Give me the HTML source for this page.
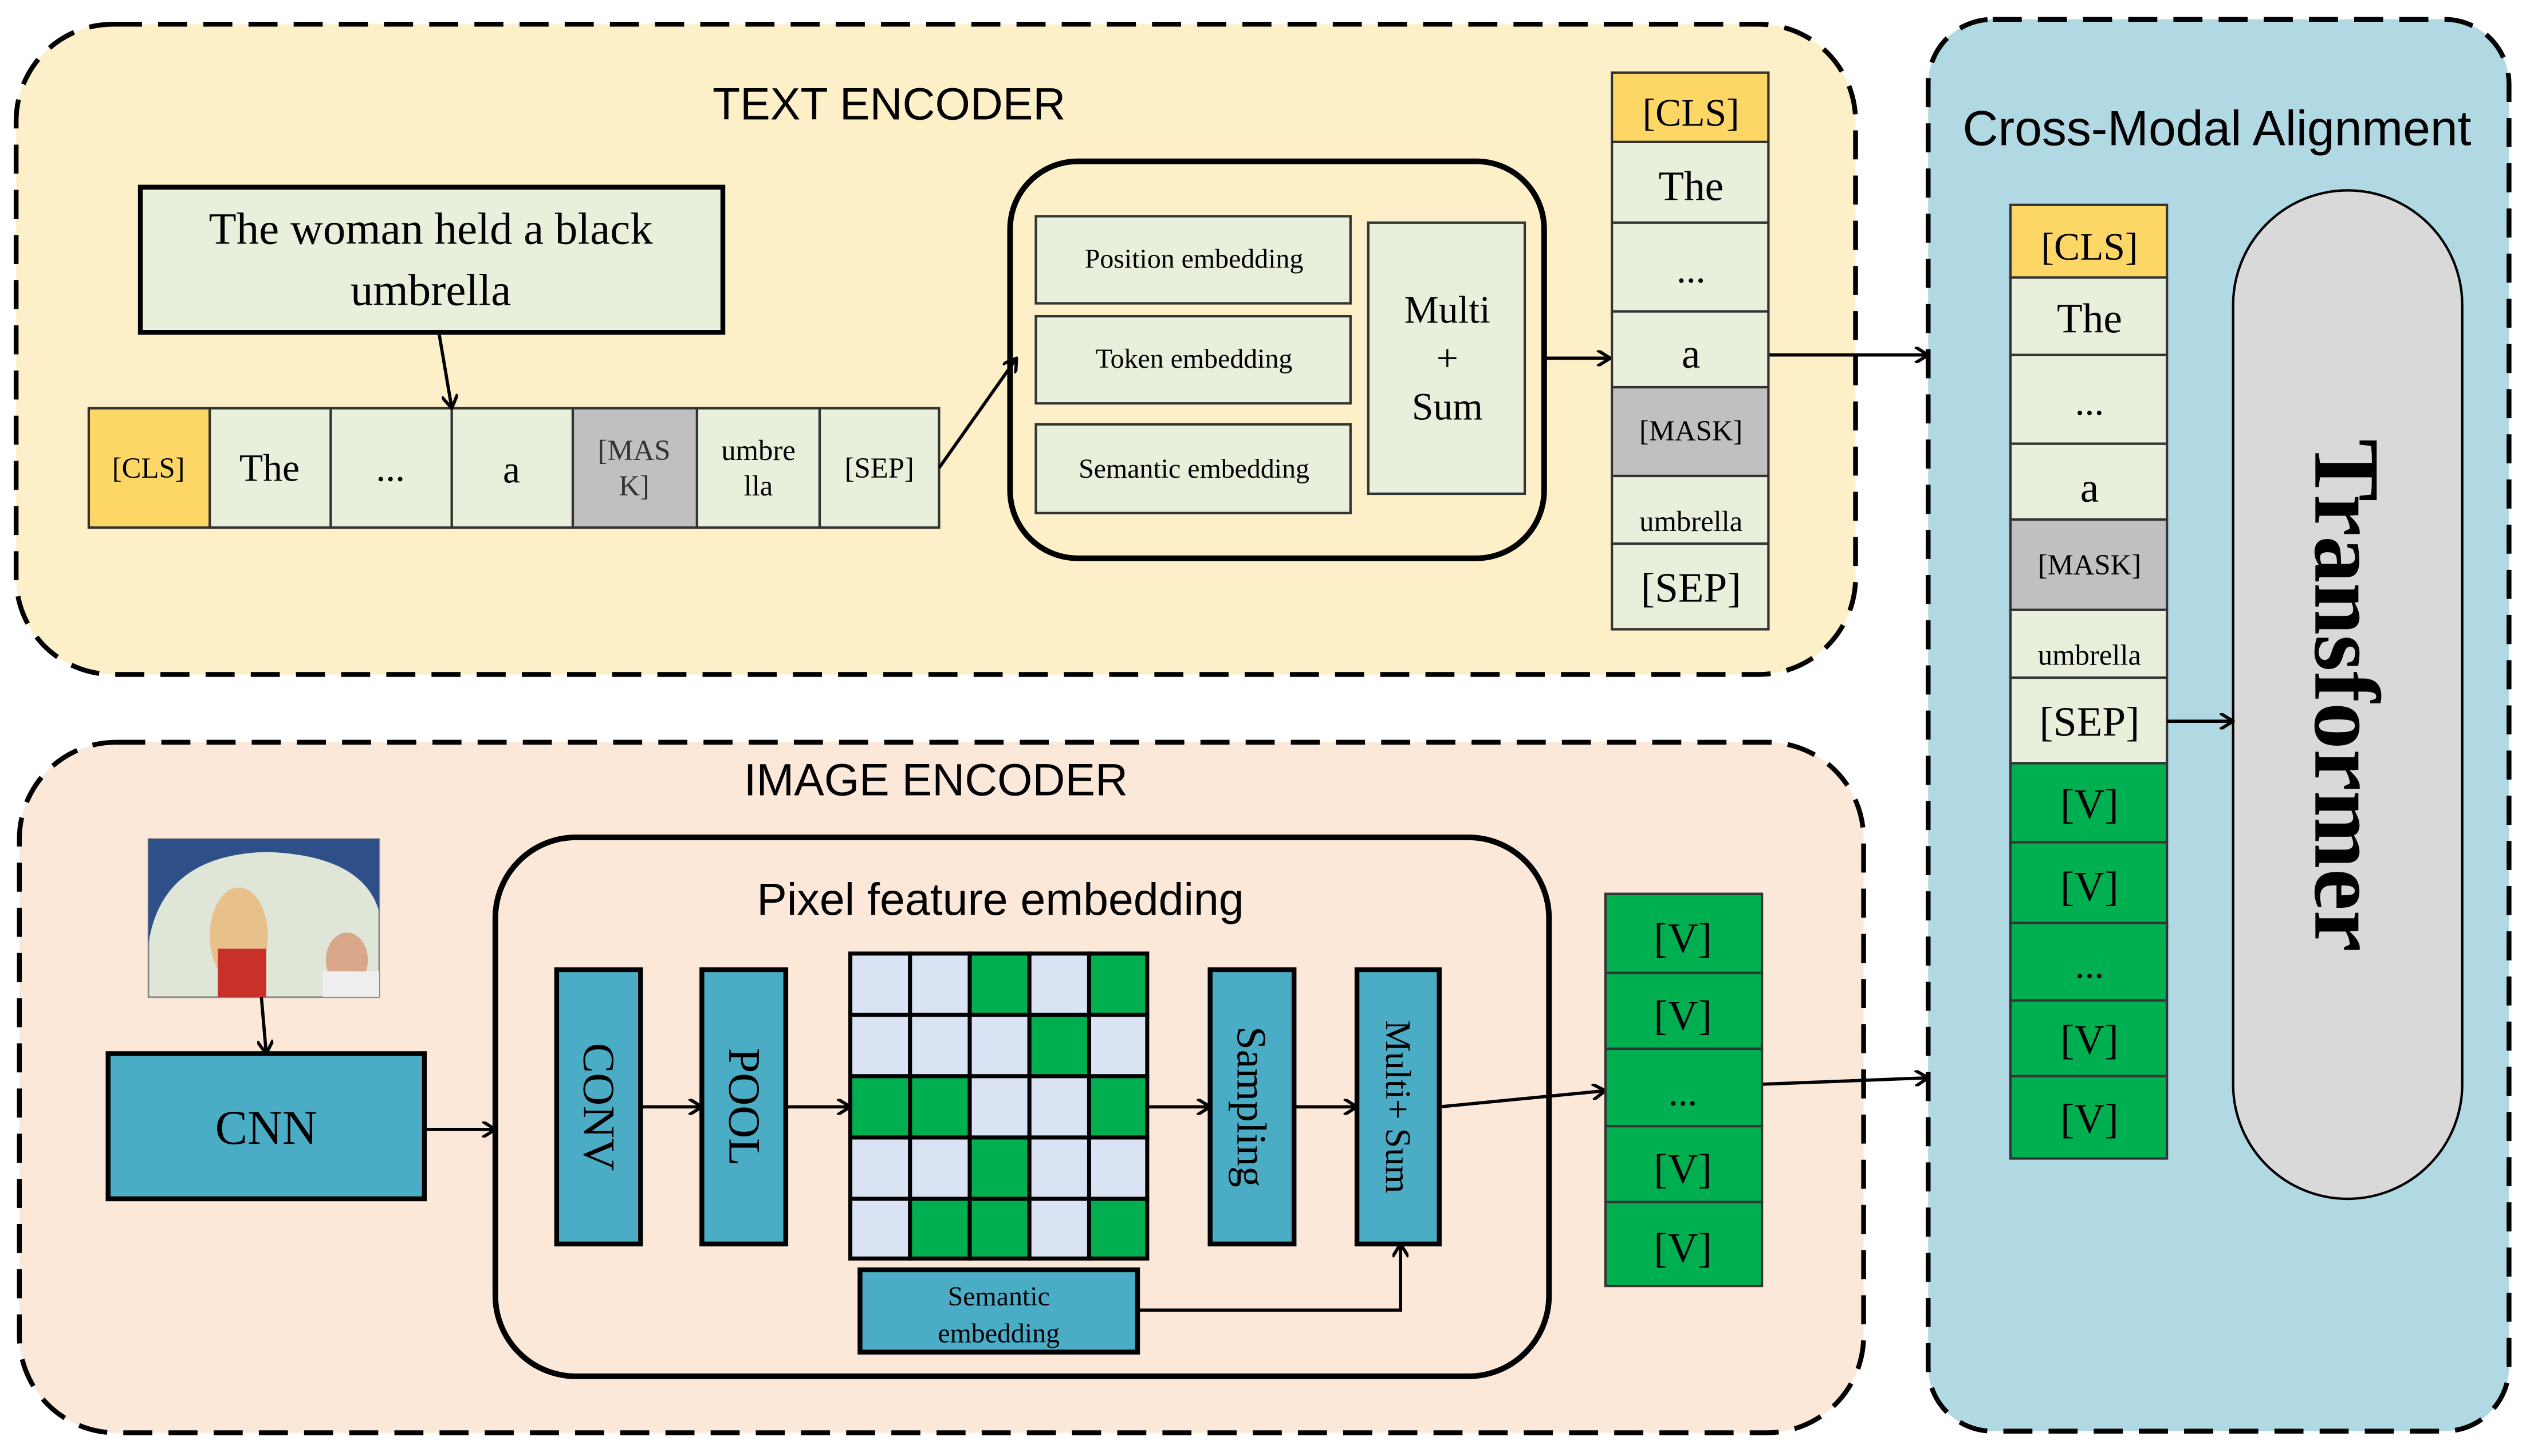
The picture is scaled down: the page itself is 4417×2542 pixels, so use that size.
<!DOCTYPE html>
<html><head><meta charset="utf-8"><style>html,body{margin:0;padding:0;background:#fff}svg{display:block}</style></head><body>
<svg width="4417" height="2542" viewBox="0 0 1568 902.4" preserveAspectRatio="none" xmlns="http://www.w3.org/2000/svg">
<defs><marker id="a" markerWidth="10" markerHeight="10" refX="9" refY="5" orient="auto" markerUnits="userSpaceOnUse"><path d="M1,0 L9,5 L1,10" fill="none" stroke="#000" stroke-width="2"/></marker></defs>
<g font-family="Liberation Serif, serif" text-anchor="middle">
<rect x="10" y="15" width="1140" height="403" rx="60" fill="#fdf0c8" stroke="#000" stroke-width="3" stroke-dasharray="18,10"/>
<rect x="12" y="460" width="1143" height="428" rx="60" fill="#fbe8d9" stroke="#000" stroke-width="3" stroke-dasharray="18,10"/>
<rect x="1195" y="12" width="360" height="875" rx="40" fill="#b0d9e4" stroke="#000" stroke-width="3" stroke-dasharray="18,10"/>
<text x="551" y="74" font-family="Liberation Sans, sans-serif" font-size="28">TEXT ENCODER</text>
<text x="580" y="493" font-family="Liberation Sans, sans-serif" font-size="28">IMAGE ENCODER</text>
<text x="1374" y="90" font-family="Liberation Sans, sans-serif" font-size="30.5">Cross-Modal Alignment</text>
<rect x="87" y="116" width="361" height="90" fill="#e8f0dc" stroke="#000" stroke-width="3"/>
<text x="267" y="151" font-size="28">The woman held a black</text>
<text x="267" y="189" font-size="28">umbrella</text>
<g stroke="#333" stroke-width="1.5">
<rect x="55" y="253" width="75" height="74" fill="#fdd766"/>
<rect x="130" y="253" width="75" height="74" fill="#e8f0dc"/>
<rect x="205" y="253" width="75" height="74" fill="#e8f0dc"/>
<rect x="280" y="253" width="75" height="74" fill="#e8f0dc"/>
<rect x="355" y="253" width="77" height="74" fill="#c0c0c0"/>
<rect x="432" y="253" width="76" height="74" fill="#e8f0dc"/>
<rect x="508" y="253" width="74" height="74" fill="#e8f0dc"/>
</g>
<text x="92" y="296" font-size="18">[CLS]</text>
<text x="167" y="298" font-size="24">The</text>
<text x="242" y="298" font-size="24">...</text>
<text x="317" y="299" font-size="24">a</text>
<text x="393" y="285" font-size="18" fill="#333">[MAS</text>
<text x="393" y="307" font-size="18" fill="#333">K]</text>
<text x="470" y="285" font-size="18">umbre</text>
<text x="470" y="307" font-size="18">lla</text>
<text x="545" y="296" font-size="18">[SEP]</text>
<g stroke="#000" stroke-width="2" fill="none">
<line x1="272" y1="206" x2="280" y2="253" marker-end="url(#a)"/>
<line x1="582" y1="290" x2="630" y2="222" marker-end="url(#a)"/>
<line x1="957" y1="222" x2="998" y2="222" marker-end="url(#a)"/>
<line x1="1096" y1="220" x2="1195" y2="220" marker-end="url(#a)"/>
</g>
<rect x="626" y="100" width="331" height="246" rx="42" fill="none" stroke="#000" stroke-width="3.5"/>
<g fill="#e8f0dc" stroke="#333" stroke-width="1.5">
<rect x="642" y="134" width="195" height="54"/><rect x="642" y="196" width="195" height="54"/>
<rect x="642" y="263" width="195" height="55"/><rect x="848" y="138" width="97" height="168"/>
</g>
<text x="740" y="166" font-size="17">Position embedding</text>
<text x="740" y="228" font-size="17">Token embedding</text>
<text x="740" y="296" font-size="17">Semantic embedding</text>
<text x="897" y="200" font-size="24">Multi</text>
<text x="897" y="230" font-size="24">+</text>
<text x="897" y="260" font-size="24">Sum</text>
<g stroke="#333" stroke-width="1.5">
<rect x="999" y="45" width="97" height="43" fill="#fdd766"/>
<rect x="999" y="88" width="97" height="50" fill="#e8f0dc"/>
<rect x="999" y="138" width="97" height="55" fill="#e8f0dc"/>
<rect x="999" y="193" width="97" height="47" fill="#e8f0dc"/>
<rect x="999" y="240" width="97" height="55" fill="#c0c0c0"/>
<rect x="999" y="295" width="97" height="42" fill="#e8f0dc"/>
<rect x="999" y="337" width="97" height="53" fill="#e8f0dc"/>
</g>
<text x="1048" y="78" font-size="24">[CLS]</text>
<text x="1048" y="124" font-size="26">The</text>
<text x="1048" y="175" font-size="24">...</text>
<text x="1048" y="228" font-size="26">a</text>
<text x="1048" y="273" font-size="18">[MASK]</text>
<text x="1048" y="329" font-size="18">umbrella</text>
<text x="1048" y="373" font-size="26">[SEP]</text>
<g stroke="#333" stroke-width="1.5">
<rect x="1246" y="127" width="97" height="45" fill="#fdd766"/>
<rect x="1246" y="172" width="97" height="48" fill="#e8f0dc"/>
<rect x="1246" y="220" width="97" height="55" fill="#e8f0dc"/>
<rect x="1246" y="275" width="97" height="47" fill="#e8f0dc"/>
<rect x="1246" y="322" width="97" height="56" fill="#c0c0c0"/>
<rect x="1246" y="378" width="97" height="42" fill="#e8f0dc"/>
<rect x="1246" y="420" width="97" height="53" fill="#e8f0dc"/>
<rect x="1246" y="473" width="97" height="49" fill="#00b050"/>
<rect x="1246" y="522" width="97" height="53" fill="#00b050"/>
<rect x="1246" y="572" width="97" height="48" fill="#00b050"/>
<rect x="1246" y="620" width="97" height="47" fill="#00b050"/>
<rect x="1246" y="667" width="97" height="51" fill="#00b050"/>
</g>
<text x="1295" y="161" font-size="24">[CLS]</text>
<text x="1295" y="206" font-size="26">The</text>
<text x="1295" y="257" font-size="24">...</text>
<text x="1295" y="311" font-size="26">a</text>
<text x="1295" y="356" font-size="18">[MASK]</text>
<text x="1295" y="412" font-size="18">umbrella</text>
<text x="1295" y="456" font-size="26">[SEP]</text>
<text x="1295" y="507" font-size="26">[V]</text>
<text x="1295" y="558" font-size="26">[V]</text>
<text x="1295" y="606" font-size="24">...</text>
<text x="1295" y="653" font-size="26">[V]</text>
<text x="1295" y="702" font-size="26">[V]</text>
<rect x="1384" y="118" width="142" height="625" rx="71" fill="#d9d9d9" stroke="#000" stroke-width="1.5"/>
<text transform="translate(1435,431) rotate(90)" font-size="58" font-weight="bold">Transformer</text>
<line x1="1343" y1="447" x2="1384" y2="447" stroke="#000" stroke-width="2" marker-end="url(#a)"/>
<rect x="92" y="520" width="143" height="98" fill="#dfe6d8" stroke="#888"/>
<path d="M92,585 Q100,530 165,528 Q225,530 235,565 L235,520 L92,520Z" fill="#2e4f88"/>
<ellipse cx="148" cy="580" rx="18" ry="30" fill="#e8c08a"/>
<rect x="135" y="588" width="30" height="30" fill="#c8302a"/>
<ellipse cx="215" cy="595" rx="13" ry="17" fill="#d9a88a"/>
<rect x="200" y="602" width="35" height="16" fill="#eeeeee"/>
<line x1="162" y1="618" x2="165" y2="653" stroke="#000" stroke-width="2" marker-end="url(#a)"/>
<rect x="67" y="653" width="196" height="90" fill="#4bacc6" stroke="#000" stroke-width="3"/>
<text x="165" y="709" font-size="30">CNN</text>
<line x1="263" y1="700" x2="307" y2="700" stroke="#000" stroke-width="2" marker-end="url(#a)"/>
<rect x="307" y="519" width="653" height="334" rx="50" fill="none" stroke="#000" stroke-width="3.5"/>
<text x="620" y="567" font-family="Liberation Sans, sans-serif" font-size="28">Pixel feature embedding</text>
<g fill="#4bacc6" stroke="#000" stroke-width="3">
<rect x="345" y="601" width="52" height="170"/><rect x="435" y="601" width="52" height="170"/>
<rect x="750" y="601" width="52" height="170"/><rect x="841" y="601" width="51" height="170"/>
<rect x="533" y="787" width="172" height="51"/>
</g>
<text transform="translate(362,686) rotate(90)" font-size="28">CONV</text>
<text transform="translate(452,686) rotate(90)" font-size="28">POOL</text>
<text transform="translate(767,686) rotate(90)" font-size="26">Sampling</text>
<text transform="translate(859,686) rotate(90)" font-size="22">Multi+ Sum</text>
<text x="619" y="809" font-size="17">Semantic</text>
<text x="619" y="832" font-size="17">embedding</text>
<g stroke="#000" stroke-width="2" fill="none">
<line x1="397" y1="686" x2="435" y2="686" marker-end="url(#a)"/>
<line x1="487" y1="686" x2="527" y2="686" marker-end="url(#a)"/>
<line x1="711" y1="686" x2="750" y2="686" marker-end="url(#a)"/>
<line x1="802" y1="686" x2="841" y2="686" marker-end="url(#a)"/>
<polyline points="705,812 868,812 868,771" marker-end="url(#a)"/>
<line x1="892" y1="686" x2="995" y2="676" marker-end="url(#a)"/>
<line x1="1092" y1="672" x2="1195" y2="668" marker-end="url(#a)"/>
</g>
<g stroke="#000" stroke-width="2.5">
<rect x="527" y="591" width="37" height="38" fill="#dae3f3"/><rect x="564" y="591" width="37" height="38" fill="#dae3f3"/><rect x="601" y="591" width="37" height="38" fill="#00b050"/><rect x="638" y="591" width="37" height="38" fill="#dae3f3"/><rect x="675" y="591" width="36" height="38" fill="#00b050"/>
<rect x="527" y="629" width="37" height="38" fill="#dae3f3"/><rect x="564" y="629" width="37" height="38" fill="#dae3f3"/><rect x="601" y="629" width="37" height="38" fill="#dae3f3"/><rect x="638" y="629" width="37" height="38" fill="#00b050"/><rect x="675" y="629" width="36" height="38" fill="#dae3f3"/>
<rect x="527" y="667" width="37" height="38" fill="#00b050"/><rect x="564" y="667" width="37" height="38" fill="#00b050"/><rect x="601" y="667" width="37" height="38" fill="#dae3f3"/><rect x="638" y="667" width="37" height="38" fill="#dae3f3"/><rect x="675" y="667" width="36" height="38" fill="#00b050"/>
<rect x="527" y="705" width="37" height="38" fill="#dae3f3"/><rect x="564" y="705" width="37" height="38" fill="#dae3f3"/><rect x="601" y="705" width="37" height="38" fill="#00b050"/><rect x="638" y="705" width="37" height="38" fill="#dae3f3"/><rect x="675" y="705" width="36" height="38" fill="#dae3f3"/>
<rect x="527" y="743" width="37" height="37" fill="#dae3f3"/><rect x="564" y="743" width="37" height="37" fill="#00b050"/><rect x="601" y="743" width="37" height="37" fill="#00b050"/><rect x="638" y="743" width="37" height="37" fill="#dae3f3"/><rect x="675" y="743" width="36" height="37" fill="#00b050"/>
</g>
<g fill="#00b050" stroke="#333" stroke-width="1.5">
<rect x="995" y="554" width="97" height="49"/><rect x="995" y="603" width="97" height="47"/>
<rect x="995" y="650" width="97" height="48"/><rect x="995" y="698" width="97" height="47"/>
<rect x="995" y="745" width="97" height="52"/>
</g>
<text x="1043" y="590" font-size="26">[V]</text>
<text x="1043" y="638" font-size="26">[V]</text>
<text x="1043" y="685" font-size="24">...</text>
<text x="1043" y="733" font-size="26">[V]</text>
<text x="1043" y="782" font-size="26">[V]</text>
</g>
</svg>
</body></html>
